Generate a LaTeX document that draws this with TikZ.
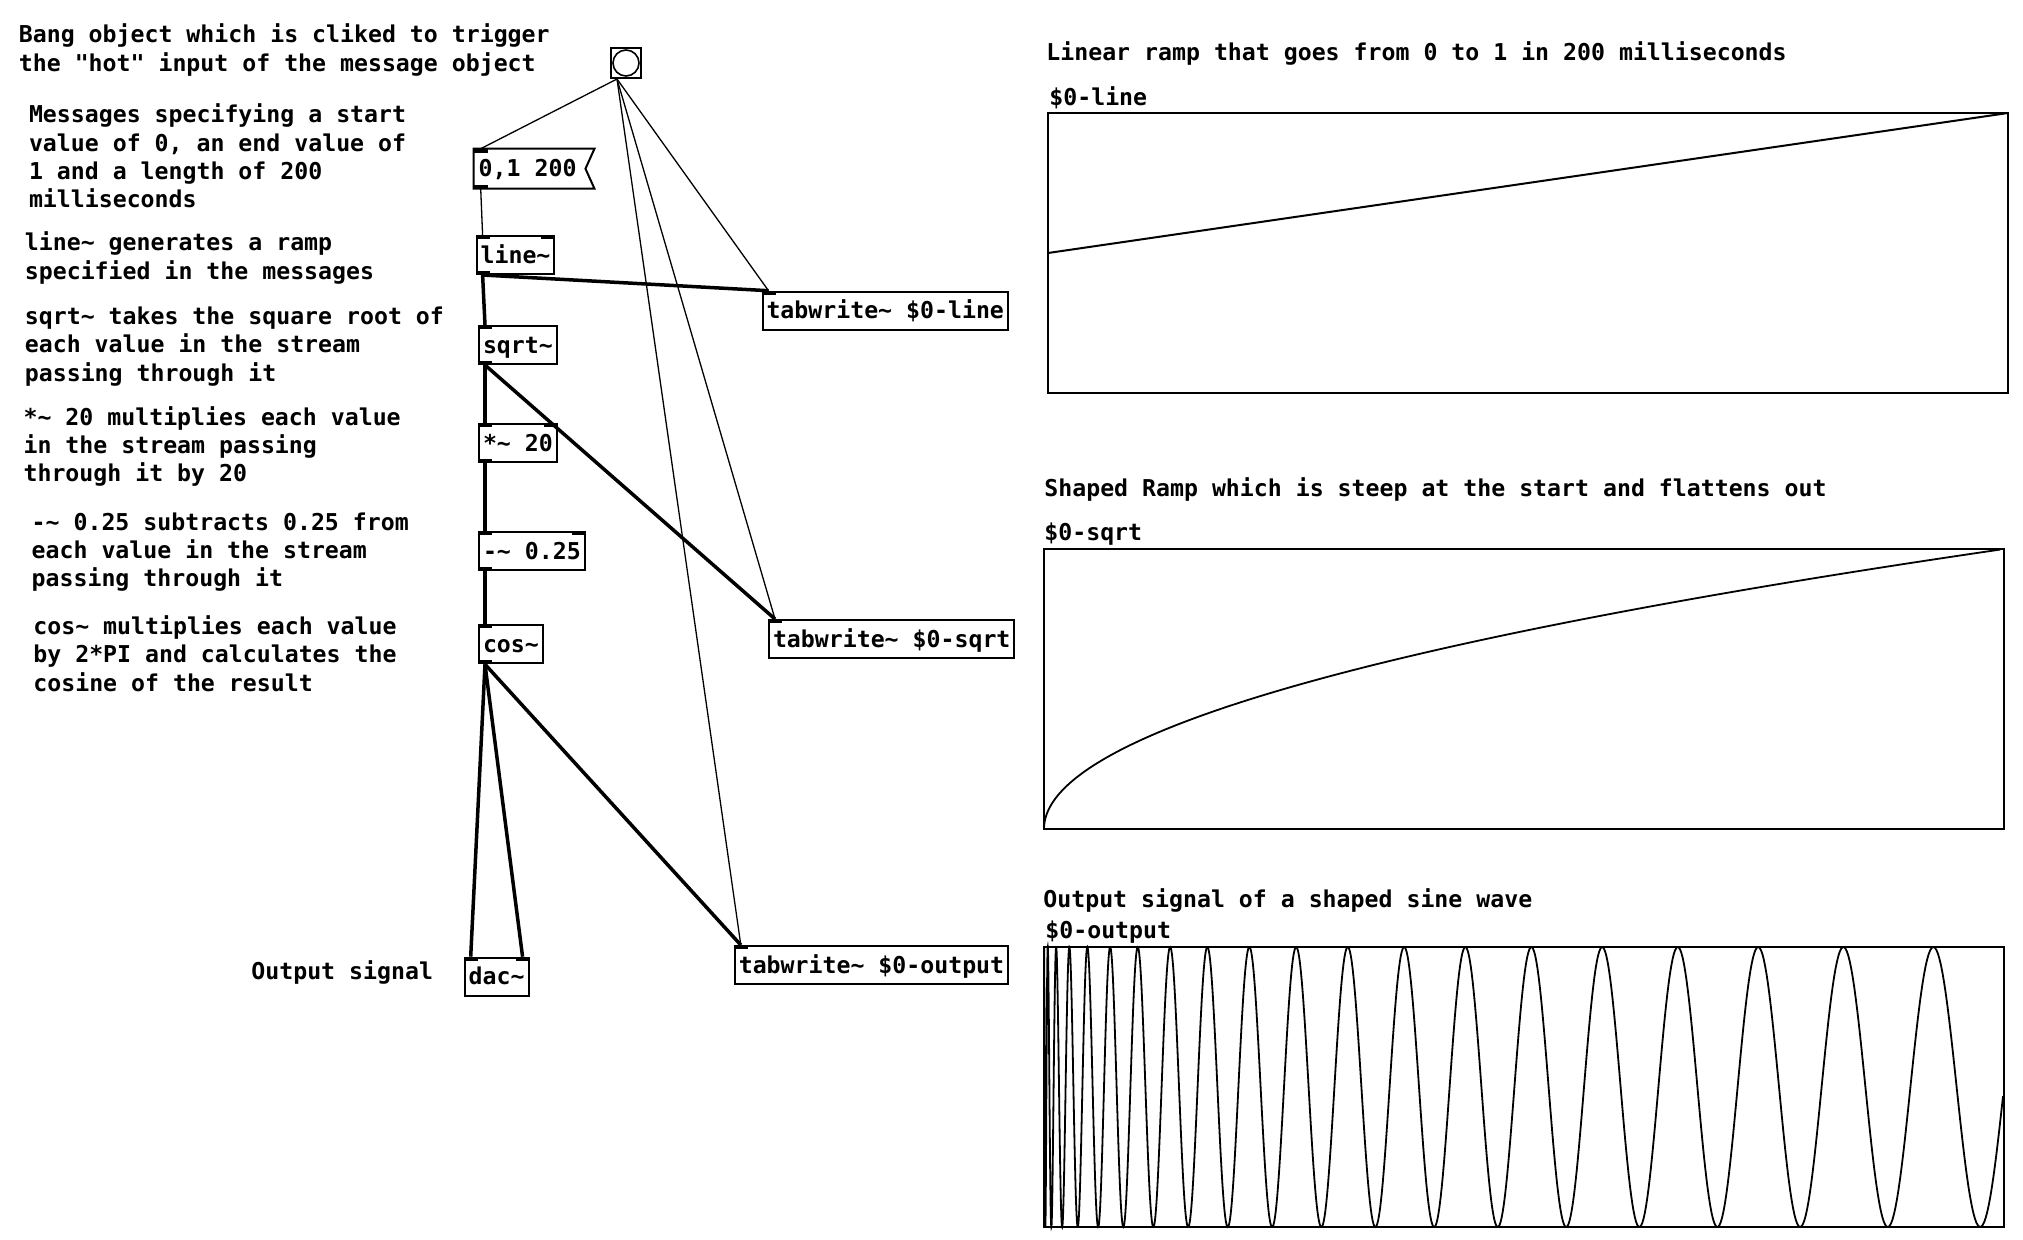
\documentclass[tikz,border=0pt]{standalone}
\usepackage{fontspec}
\setmainfont{DejaVu Sans Mono}
\newcommand{\tld}{\textasciitilde}
\begin{document}
\begin{tikzpicture}[x=0.5pt, y=-0.5pt,
        every node/.style = {font=\bfseries\fontsize{11.6}{14.2}\selectfont},
        obj/.style = {draw, line width=1pt, anchor=north west, inner xsep=2pt, inner ysep=0pt, minimum height=19pt, text height=13.5pt, text depth=5.5pt},
        note/.style = {anchor=base west, align=left, inner sep=0pt},
        sig/.style = {line width=1.75pt},
        ctl/.style = {line width=0.65pt},
        graph/.style = {draw, line width=1pt}]
        \useasboundingbox (0,0) rectangle (2023,1239);

        \node[note] (c1) at (18.5, 71.1) {Bang object which is cliked to trigger\\the \textquotedbl hot\textquotedbl{} input of the message object};
        \node[note] (c2) at (28.6, 207.9) {Messages specifying a start\\value of 0, an end value of\\1 and a length of 200\\milliseconds};
        \node[note] (c3) at (24.5, 279.1) {line\tld{} generates a ramp\\specified in the messages};
        \node[note] (c4) at (24.5, 381.1) {sqrt\tld{} takes the square root of\\each value in the stream\\passing through it};
        \node[note] (c5) at (23.2, 481.8) {*\tld{} 20 multiplies each value\\in the stream passing\\through it by 20};
        \node[note] (c6) at (31.3, 586.8) {-\tld{} 0.25 subtracts 0.25 from\\each value in the stream\\passing through it};
        \node[note] (c7) at (33, 691.1) {cos\tld{} multiplies each value\\by 2*PI and calculates the\\cosine of the result};
        \node[note] (c8) at (251, 979.3) {Output signal};

        \node[obj, minimum width=15pt, minimum height=15pt, text height=0pt, text depth=0pt, inner sep=0pt] (bang) at (610, 47) {};
        \draw[line width=0.8pt] (bang.center) circle [radius=6.5pt];

        \node[obj, draw=none] (msg) at (473.7, 148.7) {0,1 200};
        \draw[line width=1pt] (msg.north west) -- ([xshift=6.5pt]msg.north east) -- ([xshift=2pt]msg.east) -- ([xshift=6.5pt]msg.south east) -- (msg.south west) -- cycle;

        \node[obj] (line) at (475.6, 235) {line\tld};
        \node[obj] (sqrt) at (478, 325) {sqrt\tld};
        \node[obj] (mul) at (478, 423) {*\tld{} 20};
        \node[obj] (sub) at (478, 531) {-\tld{} 0.25};
        \node[obj] (cos) at (478, 624.3) {cos\tld};
        \node[obj] (dac) at (463.7, 956.7) {dac\tld};
        \node[obj] (tw1) at (761.5, 290.7) {tabwrite\tld{} \$0-line};
        \node[obj] (tw2) at (768, 619) {tabwrite\tld{} \$0-sqrt};
        \node[obj] (tw3) at (733.8, 945) {tabwrite\tld{} \$0-output};

        \foreach \n in {msg, line, sqrt, mul, sub, cos, dac, tw1, tw2, tw3}
            \fill (\n.north west) rectangle ++(14, 4);
        \foreach \n in {line, mul, sub, dac}
            \fill (\n.north east) rectangle ++(-14, 4);
        \foreach \n in {msg, line, sqrt, mul, sub, cos}
            \fill (\n.south west) rectangle ++(14, -4);

        \draw[ctl] ([xshift=3.5pt]bang.south west) -- ([xshift=3.5pt]msg.north west);
        \draw[ctl] ([xshift=3.5pt]bang.south west) -- ([xshift=3.5pt]tw1.north west);
        \draw[ctl] ([xshift=3.5pt]bang.south west) -- ([xshift=3.5pt]tw2.north west);
        \draw[ctl] ([xshift=3.5pt]bang.south west) -- ([xshift=3.5pt]tw3.north west);
        \draw[ctl] ([xshift=3.5pt]msg.south west) -- ([xshift=3.5pt]line.north west);
        \draw[sig] ([xshift=3.5pt]line.south west) -- ([xshift=3.5pt]sqrt.north west);
        \draw[sig] ([xshift=3.5pt]line.south west) -- ([xshift=3.5pt]tw1.north west);
        \draw[sig] ([xshift=3.5pt]sqrt.south west) -- ([xshift=3.5pt]mul.north west);
        \draw[sig] ([xshift=3.5pt]sqrt.south west) -- ([xshift=3.5pt]tw2.north west);
        \draw[sig] ([xshift=3.5pt]mul.south west) -- ([xshift=3.5pt]sub.north west);
        \draw[sig] ([xshift=3.5pt]sub.south west) -- ([xshift=3.5pt]cos.north west);
        \draw[sig] ([xshift=3.5pt]cos.south west) -- ([xshift=3.5pt]dac.north west);
        \draw[sig] ([xshift=3.5pt]cos.south west) -- ([xshift=-3.5pt]dac.north east);
        \draw[sig] ([xshift=3.5pt]cos.south west) -- ([xshift=3.5pt]tw3.north west);

        \node[note] (t1) at (1046, 60) {Linear ramp that goes from 0 to 1 in 200 milliseconds};
        \node[note] (l1) at (1049, 105) {\$0-line};
        \draw[graph] (1048, 113) rectangle (2008, 393);
        \draw[line width=1pt] (1048, 253) -- (2008, 113);

        \node[note] (t2) at (1044, 496) {Shaped Ramp which is steep at the start and flattens out};
        \node[note] (l2) at (1044, 540) {\$0-sqrt};
        \draw[graph] (1044, 549) rectangle (2004, 829);
        \draw[line width=0.9pt] plot[domain=0:1, samples=150, variable=\u] ({1044+960*\u*\u}, {829-280*\u});

        \node[note] (t3) at (1043, 907) {Output signal of a shaped sine wave};
        \node[note] (l3) at (1045, 938.3) {\$0-output};
        \draw[graph] (1044, 947) rectangle (2004, 1227);
        \draw[line width=0.9pt] plot[domain=0:1, samples=1201, variable=\u] ({1044+960*\u*\u}, {1087-140*cos(7200*\u-90)});
\end{tikzpicture}
\end{document}
